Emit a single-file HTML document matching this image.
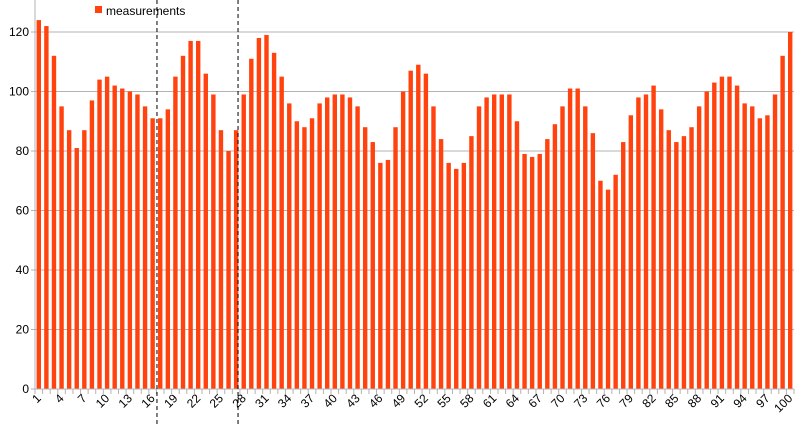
<!DOCTYPE html>
<html><head><meta charset="utf-8"><style>
html,body{margin:0;padding:0;background:#fff;}
svg{display:block;font-family:"Liberation Sans",sans-serif;}
</style></head><body>
<svg id="chart" width="797" height="426" viewBox="0 0 797 426"></svg>
<script>
const categories = Array.from({length:100},(_,i)=>i+1);
const measurements = [124,122,112,95,87,81,87,97,104,105,102,101,100,99,95,91,91,94,105,112,117,117,106,99,87,80,87,99,111,118,119,113,105,96,90,88,91,96,98,99,99,98,95,88,83,76,77,88,100,107,109,106,95,84,76,74,76,85,95,98,99,99,99,90,79,78,79,84,89,95,101,101,95,86,70,67,72,83,92,98,99,102,94,87,83,85,88,95,100,103,105,105,102,96,95,91,92,99,112,120];
const yTicks = [0,20,40,60,80,100,120];
const markers = [16.07, 26.75];
const NS='http://www.w3.org/2000/svg';
const svg=document.getElementById('chart');
const L=35,R=794,B=389,PX=2.975;
const cw=(R-L)/categories.length;
const x=i=>L+cw*(i+0.5);
const y=v=>B-v*PX;
function el(t,a,p){const e=document.createElementNS(NS,t);for(const k in a)e.setAttribute(k,a[k]);(p||svg).appendChild(e);return e;}
const grid=el('g',{});


yTicks.forEach(t=>{
  const ln=el('line',{x1:L-4,x2:R,y1:y(t),y2:y(t),stroke:'#b3b3b3','stroke-width':1},grid);
  
  
  const tx=el('text',{x:L-6,y:y(t)+4,'text-anchor':'end','font-size':12,fill:'#000'});
  tx.textContent=t;
  
  
});
const ax=el('line',{x1:L,x2:L,y1:0,y2:B+5,stroke:'#b3b3b3'});


const bars=el('g',{});


measurements.forEach((v,i)=>{
  const r=el('rect',{x:x(i)-2.2,y:y(v),width:4.4,height:B-y(v),fill:'#ff420e'},bars);
  
  
});
for(let i=0;i<=categories.length;i++){
  const t=el('line',{x1:L+cw*i,x2:L+cw*i,y1:B,y2:B+5,stroke:'#b3b3b3'});
  
  
}
const xa=el('line',{x1:L,x2:R,y1:B,y2:B,stroke:'#b3b3b3'});


categories.forEach((c,i)=>{
  if(i%3!==0)return;
  const px=x(i)+3,py=B+10;
  const tx=el('text',{x:px,y:py,'text-anchor':'end','font-size':12,fill:'#000',transform:`rotate(-45 ${px} ${py})`});
  tx.textContent=c;
  
  
});
markers.forEach(m=>{
  const xx=L+cw*m;
  const d=el('line',{x1:xx,x2:xx,y1:0,y2:426,stroke:'#000','stroke-dasharray':'4,3','stroke-width':1});
  
  
});
const lg=el('g',{});


const sw=el('rect',{x:95,y:6,width:7,height:7,fill:'#ff420e'},lg);


const lt=el('text',{x:106,y:15,'font-size':12,fill:'#000'},lg);
lt.textContent='measurements';


</script>
</body></html>
